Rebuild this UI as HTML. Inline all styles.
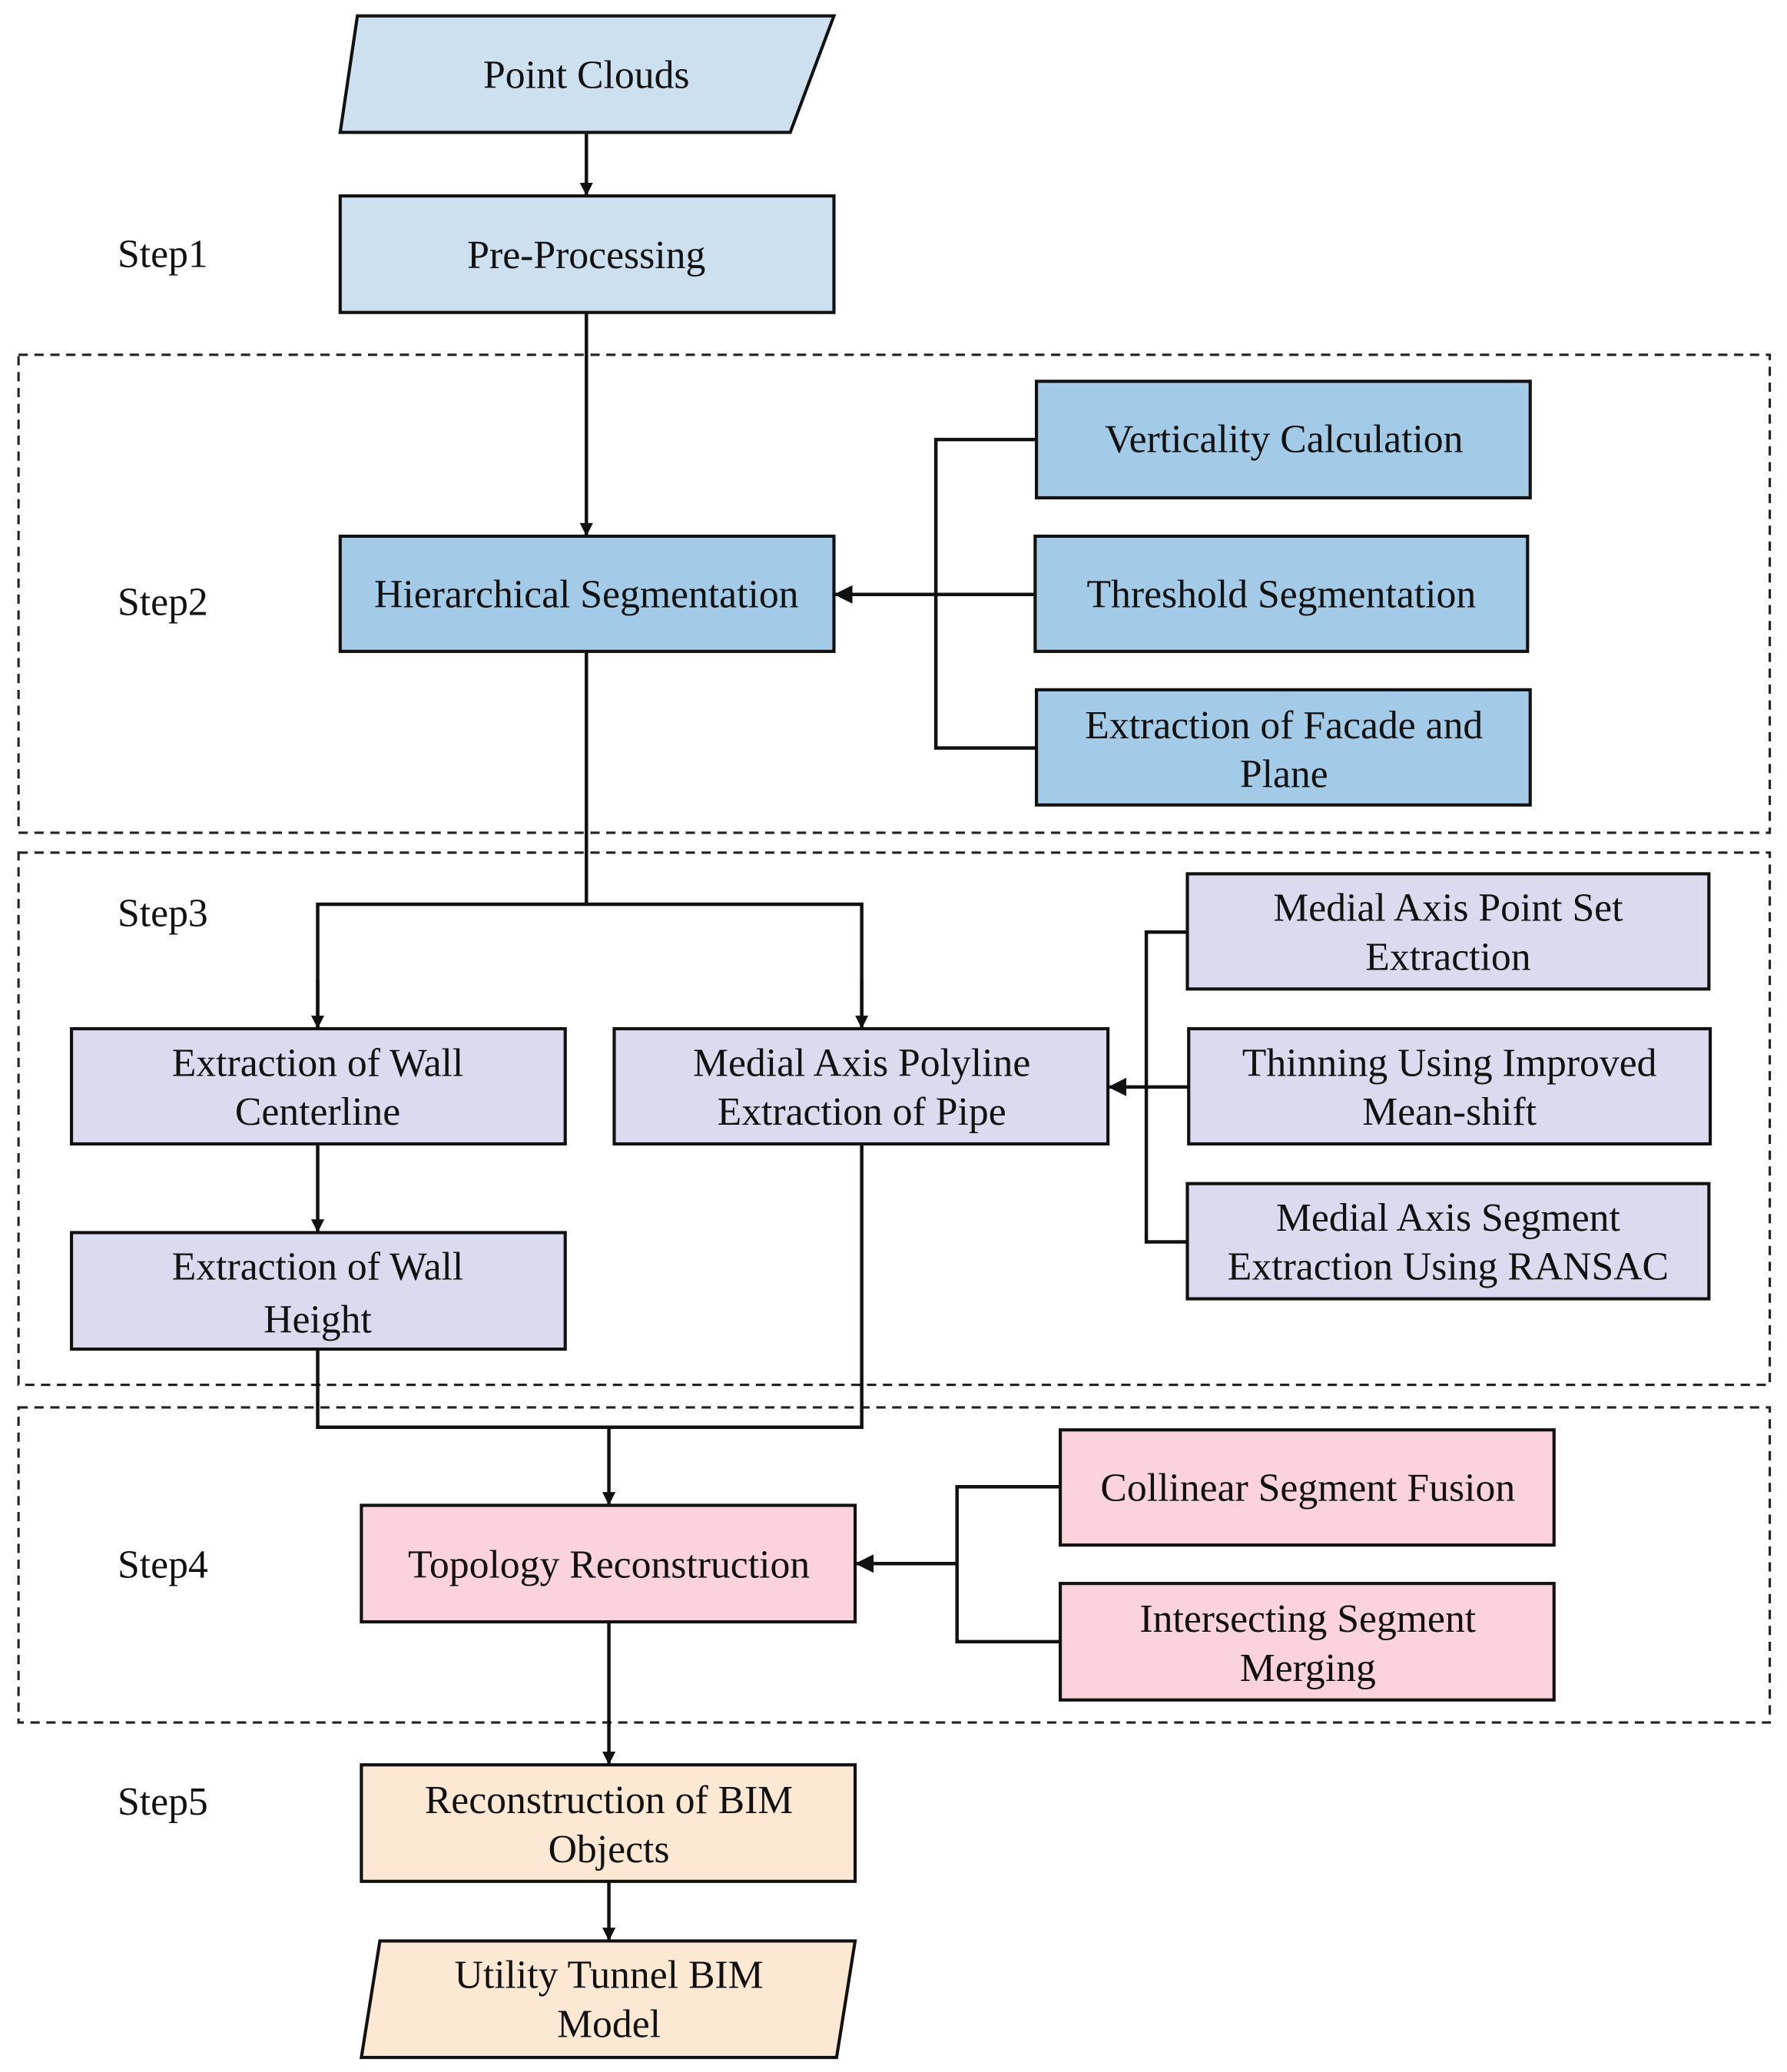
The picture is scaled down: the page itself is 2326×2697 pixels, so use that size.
<!DOCTYPE html>
<html><head><meta charset="utf-8"><style>
html,body{margin:0;padding:0;background:#fff;}
svg{display:block;}
text{font-family:"Liberation Serif",serif;font-size:30px;fill:#111;text-anchor:middle;dominant-baseline:central;}
.b{stroke:#111;stroke-width:2.4;}
.l{stroke:#111;stroke-width:2.6;fill:none;}
.d{stroke:#222;stroke-width:1.8;fill:none;stroke-dasharray:7,5;}
</style></head><body>
<svg width="2326" height="2697" viewBox="0 0 1350 1565" preserveAspectRatio="none" xmlns="http://www.w3.org/2000/svg">
<defs><marker id="a" markerWidth="10" markerHeight="10" refX="9" refY="5" orient="auto" markerUnits="userSpaceOnUse"><path d="M0,0 L10,5 L0,10 z" fill="#111"/></marker>
<marker id="a2" markerWidth="14" markerHeight="14" refX="13" refY="7" orient="auto" markerUnits="userSpaceOnUse"><path d="M0,0 L14,7 L0,14 z" fill="#111"/></marker></defs>
<rect class="d" x="14" y="268" width="1323" height="361"/>
<rect class="d" x="14" y="644" width="1323" height="402"/>
<rect class="d" x="14" y="1063" width="1323" height="238"/>
<text x="123" y="192">Step1</text>
<text x="123" y="455">Step2</text>
<text x="123" y="690">Step3</text>
<text x="123" y="1182">Step4</text>
<text x="123" y="1361">Step5</text>
<line class="l" x1="443" y1="100" x2="443" y2="147" marker-end="url(#a)"/>
<line class="l" x1="443" y1="236" x2="443" y2="404" marker-end="url(#a)"/>
<path class="l" d="M783,332 H707 V565 H783"/>
<line class="l" x1="782" y1="449" x2="631" y2="449" marker-end="url(#a2)"/>
<path class="l" d="M443,492 V683"/>
<path class="l" d="M240,776 V683 H651 V776" />
<line class="l" x1="240" y1="740" x2="240" y2="776" marker-end="url(#a)"/>
<line class="l" x1="651" y1="740" x2="651" y2="776" marker-end="url(#a)"/>
<line class="l" x1="240" y1="864" x2="240" y2="930" marker-end="url(#a)"/>
<path class="l" d="M897,704 H866 V938 H897"/>
<line class="l" x1="898" y1="821" x2="838" y2="821" marker-end="url(#a2)"/>
<path class="l" d="M240,1019 V1078 H651 V864"/>
<line class="l" x1="460" y1="1078" x2="460" y2="1136" marker-end="url(#a)"/>
<path class="l" d="M801,1123 H723 V1240 H801"/>
<line class="l" x1="723" y1="1181" x2="647" y2="1181" marker-end="url(#a2)"/>
<line class="l" x1="460" y1="1225" x2="460" y2="1332" marker-end="url(#a)"/>
<line class="l" x1="460" y1="1421" x2="460" y2="1465" marker-end="url(#a)"/>
<polygon class="b" fill="#cce0f0" points="270,12 630,12 597,100 257,100"/>
<text x="443" y="57">Point Clouds</text>
<rect class="b" fill="#cce0f0" x="257" y="148" width="373" height="88"/>
<text x="443" y="193">Pre-Processing</text>
<rect class="b" fill="#a3cbe8" x="257" y="405" width="373" height="87"/>
<text x="443" y="449">Hierarchical Segmentation</text>
<rect class="b" fill="#a3cbe8" x="783" y="288" width="373" height="88"/>
<text x="970" y="332">Verticality Calculation</text>
<rect class="b" fill="#a3cbe8" x="782" y="405" width="372" height="87"/>
<text x="968" y="449">Threshold Segmentation</text>
<rect class="b" fill="#a3cbe8" x="783" y="521" width="373" height="87"/>
<text x="970" y="548">Extraction of Facade and</text>
<text x="970" y="585">Plane</text>
<rect class="b" fill="#dcdaee" x="54" y="777" width="373" height="87"/>
<text x="240" y="803">Extraction of Wall</text>
<text x="240" y="840">Centerline</text>
<rect class="b" fill="#dcdaee" x="464" y="777" width="373" height="87"/>
<text x="651" y="803">Medial Axis Polyline</text>
<text x="651" y="840">Extraction of Pipe</text>
<rect class="b" fill="#dcdaee" x="54" y="931" width="373" height="88"/>
<text x="240" y="957">Extraction of Wall</text>
<text x="240" y="997">Height</text>
<rect class="b" fill="#dcdaee" x="897" y="660" width="394" height="87"/>
<text x="1094" y="686">Medial Axis Point Set</text>
<text x="1094" y="723">Extraction</text>
<rect class="b" fill="#dcdaee" x="898" y="777" width="394" height="87"/>
<text x="1095" y="803">Thinning Using Improved</text>
<text x="1095" y="840">Mean-shift</text>
<rect class="b" fill="#dcdaee" x="897" y="894" width="394" height="87"/>
<text x="1094" y="920">Medial Axis Segment</text>
<text x="1094" y="957">Extraction Using RANSAC</text>
<rect class="b" fill="#fad3dc" x="273" y="1137" width="373" height="88"/>
<text x="460" y="1182">Topology Reconstruction</text>
<rect class="b" fill="#fad3dc" x="801" y="1080" width="373" height="87"/>
<text x="988" y="1124">Collinear Segment Fusion</text>
<rect class="b" fill="#fad3dc" x="801" y="1196" width="373" height="88"/>
<text x="988" y="1223">Intersecting Segment</text>
<text x="988" y="1260">Merging</text>
<rect class="b" fill="#fde9d3" x="273" y="1333" width="373" height="88"/>
<text x="460" y="1360">Reconstruction of BIM</text>
<text x="460" y="1397">Objects</text>
<polygon class="b" fill="#fde9d3" points="287,1466 646,1466 632,1554 273,1554"/>
<text x="460" y="1492">Utility Tunnel BIM</text>
<text x="460" y="1529">Model</text>
</svg>
</body></html>
